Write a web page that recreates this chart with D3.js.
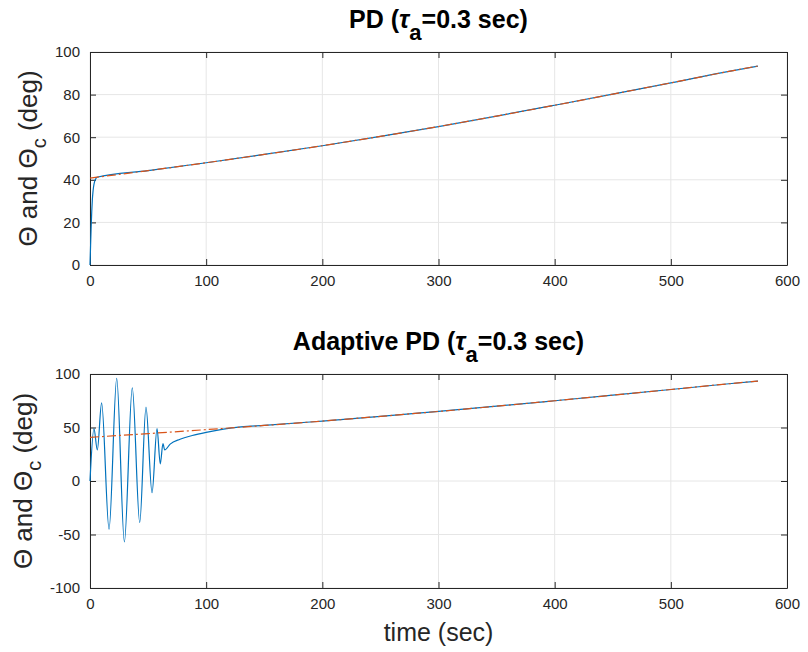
<!DOCTYPE html>
<html>
<head>
<meta charset="utf-8">
<script src="https://cdn.jsdelivr.net/npm/d3@7"></script>
<style>
  body { margin: 0; background: #fff; }
  text { font-family: "Liberation Sans", Arial, Helvetica, sans-serif; fill: #262626; }
</style>
</head>
<body>
<div id="chart"></div>
<script>
// --------------------------------------
//  Data
// --------------------------------------

// commanded angle Theta_c (deg), same in both plots
const refTime  = [0, 50, 100, 150, 200, 250, 300, 350, 400, 450, 500, 550, 575];
const refAngle = [40.8, 44.3, 48, 51.9, 56, 60.4, 65, 69.9, 75, 80.2, 85.5, 90.9, 93.4];

// PD response: fast rise, then on top of the command
const pdTime  = [0, 0.5, 1, 1.5, 2, 2.5, 3, 4, 5, 6, 50, 100, 150, 200, 250, 300, 350, 400, 450, 500, 550, 575];
const pdAngle = [0, 9, 18, 25, 30.5, 34, 36.5, 39.3, 40.5, 41.2, 44.3, 48, 51.9, 56, 60.4, 65, 69.9, 75, 80.2, 85.5, 90.9, 93.4];

// Adaptive PD response: oscillation peaks / troughs, then settling
const adTime  = [0, 3.4, 6.3, 10, 16.4, 23, 29.6, 36.4, 42.8, 48.2, 53.4, 57.7, 60.5, 62.8, 64.3,
                 69, 77.5, 88, 100, 115, 130, 150, 200, 250, 300, 350, 400, 450, 500, 550, 575];
const adAngle = [0, 49, 29, 73, -45, 96, -57, 87, -39, 69, -11, 49, 16, 35, 29,
                 34.5, 39, 42.5, 45.5, 48.5, 50.5, 51.9, 56, 60.4, 65, 69.9, 75, 80.2, 85.5, 90.9, 93.4];

const xTicks = [0, 100, 200, 300, 400, 500, 600];
const yTicksTop = [0, 20, 40, 60, 80, 100];
const yTicksBottom = [-100, -50, 0, 50, 100];

const zip = (t, v) => t.map((d, i) => [d, v[i]]);

// --------------------------------------
//  Canvas
// --------------------------------------

const width = 808;
const height = 652;

const svg = d3.select("#chart")
  .append("svg")
  .attr("width", width)
  .attr("height", height);

const x = d3.scaleLinear([0, 600], [90, 787]);

const panels = [
  {
    top: 52, bottom: 265, domain: [0, 100], ticks: yTicksTop,
    title: "PD (", titleY: 28, labelX: 37,
    series: [zip(refTime, refAngle), zip(pdTime, pdAngle)]
  },
  {
    top: 374, bottom: 588, domain: [-100, 100], ticks: yTicksBottom,
    title: "Adaptive PD (", titleY: 350, labelX: 32,
    series: [zip(refTime, refAngle), zip(adTime, adAngle)]
  }
];

const axisColor = "#262626";
const tickLen = 6;
const fmt = (d) => String(d);

panels.forEach((p) => {
  const y = d3.scaleLinear(p.domain, [p.bottom, p.top]);
  const g = svg.append("g");

  // grid
  g.selectAll("line.gx").data(xTicks).join("line")
    .attr("x1", (d) => x(d)).attr("x2", (d) => x(d))
    .attr("y1", p.top).attr("y2", p.bottom)
    .attr("stroke", "#e6e6e6");
  g.selectAll("line.gy").data(p.ticks).join("line")
    .attr("x1", x(0)).attr("x2", x(600))
    .attr("y1", (d) => y(d)).attr("y2", (d) => y(d))
    .attr("stroke", "#e6e6e6");

  // axes (inward ticks, box on)
  g.append("g")
    .attr("transform", `translate(0,${p.bottom})`)
    .call(d3.axisBottom(x).tickValues(xTicks).tickFormat(fmt).tickSizeInner(-tickLen).tickSizeOuter(0).tickPadding(10))
    .call((a) => a.selectAll("text").attr("font-size", 15).style("font-family", "Liberation Sans, Arial, sans-serif"));
  g.append("g")
    .attr("transform", `translate(0,${p.top})`)
    .call(d3.axisTop(x).tickValues(xTicks).tickSizeInner(-tickLen).tickSizeOuter(0).tickFormat(""));
  g.append("g")
    .attr("transform", `translate(${x(0)},0)`)
    .call(d3.axisLeft(y).tickValues(p.ticks).tickFormat(fmt).tickSizeInner(-tickLen).tickSizeOuter(0).tickPadding(10))
    .call((a) => a.selectAll("text").attr("font-size", 15).style("font-family", "Liberation Sans, Arial, sans-serif"));
  g.append("g")
    .attr("transform", `translate(${x(600)},0)`)
    .call(d3.axisRight(y).tickValues(p.ticks).tickSizeInner(-tickLen).tickSizeOuter(0).tickFormat(""));

  g.selectAll(".domain").attr("stroke", axisColor);
  g.selectAll(".tick line").attr("stroke", axisColor);
  g.selectAll(".tick text").attr("fill", axisColor);

  // lines
  const line = d3.line().x((d) => x(d[0])).y((d) => y(d[1])).curve(d3.curveMonotoneX);

  g.append("path")
    .datum(p.series[1])
    .attr("d", line)
    .attr("fill", "none")
    .attr("stroke", "#0072BD")
    .attr("stroke-width", 1.2);

  g.append("path")
    .datum(p.series[0])
    .attr("d", line)
    .attr("fill", "none")
    .attr("stroke", "#D95319")
    .attr("stroke-width", 1.2)
    .attr("stroke-dasharray", "9,3,2,3");

  // title
  const t = g.append("text")
    .attr("x", (x(0) + x(600)) / 2)
    .attr("y", p.titleY)
    .attr("text-anchor", "middle")
    .attr("font-size", 25)
    .attr("font-weight", "bold");
  t.append("tspan").text(p.title).style("fill", "#000");
  t.append("tspan").text("τ").attr("font-style", "italic").style("fill", "#000");
  t.append("tspan").text("a").attr("dy", 12).attr("font-size", 22).style("fill", "#000");
  t.append("tspan").text("=0.3 sec)").attr("dy", -12).style("fill", "#000");

  // y label
  const cy = (p.top + p.bottom) / 2;
  const yl = g.append("text")
    .attr("transform", `translate(${p.labelX},${cy}) rotate(-90)`)
    .attr("text-anchor", "middle")
    .attr("font-size", 26);
  yl.append("tspan").text("Θ and Θ");
  yl.append("tspan").text("c").attr("dy", 9).attr("font-size", 20);
  yl.append("tspan").text(" (deg)").attr("dy", -9);
});

// x label
svg.append("text")
  .attr("x", (x(0) + x(600)) / 2)
  .attr("y", 641)
  .attr("text-anchor", "middle")
  .attr("font-size", 25)
  .text("time (sec)");
</script>
</body>
</html>
